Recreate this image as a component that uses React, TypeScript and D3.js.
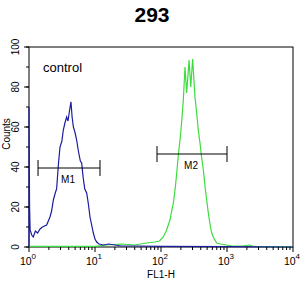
import React, { useEffect, useRef } from "react";
import * as d3 from "d3";

// control (blue) histogram: FL1-H value, counts
const controlFL1 = [1, 1, 1.02, 1.04, 1.1, 1.16, 1.25, 1.35, 1.47, 1.6, 1.85, 2.08, 2.2, 2.34, 2.5, 2.62, 2.8, 2.95, 3.15, 3.31, 3.5, 3.72, 3.9, 4.1, 4.32, 4.5, 4.7, 5.0, 5.27, 5.6, 6.0, 6.28, 6.6, 7.0, 7.48, 7.9, 8.4, 8.9, 9.44, 10, 10.6, 11.5, 13.4, 16, 20, 25, 40, 100, 1000, 10000];
const controlCounts = [0, 70, 20, 8.5, 6, 5, 8, 7, 9, 10, 11, 15, 18, 23.5, 27, 29, 42, 50, 53, 58.5, 62, 65, 63, 68, 72.6, 65, 60, 57, 53.5, 48, 43, 42, 35, 29, 27, 22, 15, 11, 7, 4, 2.5, 1.5, 1, 1.5, 1, 0.5, 0.5, 0.3, 0.2, 0];

// sample (green) histogram
const sampleFL1 = [1, 10, 15, 25, 40, 60, 80, 95, 108, 120, 137, 145, 154, 165, 173, 183, 194, 205, 218, 231, 245, 266, 282, 302, 327, 345, 367, 390, 412, 440, 465, 490, 521, 555, 586, 640, 698, 800, 989, 1200, 1700, 2200, 2500, 10000];
const sampleCounts = [0.3, 0.3, 1, 1.5, 1, 2, 2.5, 3, 5, 8, 13.5, 18, 22, 30, 37, 46, 53.5, 62, 73.5, 90, 77, 93.5, 80, 94, 75, 68, 58.5, 52, 45, 38, 30, 24, 17, 11, 7, 4, 2, 1.5, 1, 0.5, 0.5, 1, 0.3, 0];

const xTickExps = [0, 1, 2, 3, 4];
const yTicks = [0, 20, 40, 60, 80, 100];

// markers
const markerNames = ["M1", "M2"];
const markerFrom = [1.37, 87];
const markerTo = [11.9, 1000];
const markerLevel = [39.5, 46.5];

const App = () => {
  const ref = useRef<SVGSVGElement>(null);

  useEffect(() => {
    const svg = d3.select(ref.current);
    svg.selectAll("*").remove();
    const font = "Liberation Sans, Arial, sans-serif";

    const x = d3.scaleLog().domain([1, 10000]).range([29, 293]);
    const y = d3.scaleLinear().domain([0, 100]).range([247, 47]);

    svg.append("rect").attr("width", 305).attr("height", 296).attr("fill", "#fff");

    svg.append("text").attr("x", 152).attr("y", 22).attr("text-anchor", "middle")
      .attr("font-family", font).attr("font-weight", "bold").attr("font-size", 21).text("293");

    // frame
    svg.append("rect").attr("x", 29).attr("y", 47).attr("width", 264).attr("height", 200)
      .attr("fill", "none").attr("stroke", "#000").attr("stroke-width", 1);

    const line = d3.line<[number, number]>().x(d => x(d[0])).y(d => y(d[1]));
    svg.append("path").datum(sampleFL1.map((v, i) => [v, sampleCounts[i]] as [number, number]))
      .attr("d", line).attr("fill", "none").attr("stroke", "#3cdc3c").attr("stroke-width", 1.2);
    svg.append("path").datum(controlFL1.map((v, i) => [v, controlCounts[i]] as [number, number]))
      .attr("d", line).attr("fill", "none").attr("stroke", "#1c1ca0").attr("stroke-width", 1.2);

    // x ticks
    const minor: number[] = [];
    for (let e = 0; e < 4; e++) for (let k = 2; k < 10; k++) minor.push(k * 10 ** e);
    svg.selectAll(".xm").data(minor).enter().append("line")
      .attr("x1", d => x(d)).attr("x2", d => x(d)).attr("y1", 247).attr("y2", 250)
      .attr("stroke", "#000");
    svg.selectAll(".xM").data(xTickExps).enter().append("line")
      .attr("x1", d => x(10 ** d)).attr("x2", d => x(10 ** d)).attr("y1", 247).attr("y2", 252)
      .attr("stroke", "#000");
    const xl = svg.selectAll(".xl").data(xTickExps).enter().append("text")
      .attr("x", d => x(10 ** d) - 1).attr("y", 265).attr("text-anchor", "middle")
      .attr("font-family", font).attr("font-size", 10.5);
    xl.append("tspan").text("10");
    xl.append("tspan").attr("dy", -6).attr("font-size", 8).text(d => String(d));

    svg.append("text").attr("x", 161).attr("y", 278).attr("text-anchor", "middle")
      .attr("font-family", font).attr("font-size", 10).text("FL1-H");

    // y ticks
    const yMinor = d3.range(0, 101, 10);
    svg.selectAll(".ym").data(yMinor).enter().append("line")
      .attr("x1", 26).attr("x2", 29).attr("y1", d => y(d)).attr("y2", d => y(d)).attr("stroke", "#000");
    svg.selectAll(".yM").data(yTicks).enter().append("line")
      .attr("x1", 24).attr("x2", 29).attr("y1", d => y(d)).attr("y2", d => y(d)).attr("stroke", "#000");
    svg.selectAll(".yl").data(yTicks).enter().append("text")
      .attr("transform", d => `translate(19,${y(d)}) rotate(-90)`).attr("text-anchor", "middle")
      .attr("font-family", font).attr("font-size", 10).text(d => String(d));
    svg.append("text").attr("transform", "translate(10,134) rotate(-90)").attr("text-anchor", "middle")
      .attr("font-family", font).attr("font-size", 10).text("Counts");

    svg.append("text").attr("x", 43).attr("y", 72).attr("font-family", font).attr("font-size", 13).text("control");

    // markers
    markerNames.forEach((name, i) => {
      const x1 = x(markerFrom[i]), x2 = x(markerTo[i]), yy = y(markerLevel[i]);
      const g = svg.append("g").attr("stroke", "#000");
      g.append("line").attr("x1", x1).attr("x2", x2).attr("y1", yy).attr("y2", yy);
      g.append("line").attr("x1", x1).attr("x2", x1).attr("y1", yy - 8).attr("y2", yy + 8);
      g.append("line").attr("x1", x2).attr("x2", x2).attr("y1", yy - 8).attr("y2", yy + 8);
      svg.append("text").attr("x", (x1 + x2) / 2 - 1).attr("y", yy + 15).attr("text-anchor", "middle")
        .attr("font-family", font).attr("font-size", 10).text(name);
    });
  }, []);

  return <svg ref={ref} width={305} height={296} style={{ position: "absolute", left: 0, top: 0 }} />;
};

export default App;
